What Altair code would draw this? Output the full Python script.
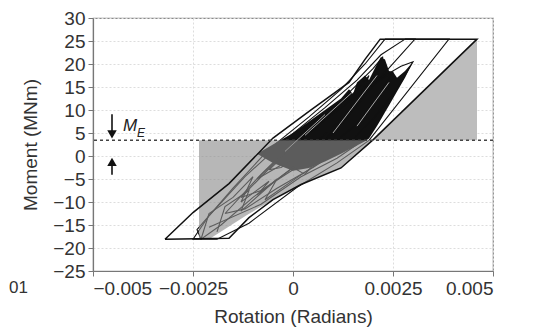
import altair as alt
import pandas as pd

# ---------------- data ----------------
x_ticks = [-0.005, -0.0025, 0.0, 0.0025, 0.005]
y_ticks = [-25, -20, -15, -10, -5, 0, 5, 10, 15, 20, 25, 30]
M_E = 3.45

# outer envelope
env_x = [-0.0032, -0.0025, -0.0016, -0.0005, 0.0004, 0.0014, 0.0018, 0.00218, 0.0046,
         0.0020, 0.0012, 0.0002, -0.0005, -0.0011, -0.0016, -0.0032]
env_y = [-18.1, -12.3, -6.0, 3.9, 9.7, 16.0, 21.0, 25.4, 25.4,
         3.5, -2.6, -6.2, -9.5, -13.4, -17.9, -18.1]
# middle large loop
lb_x = [0.0028, 0.0039, 0.0019, 0.0011, 0.0001, -0.0011, -0.0019, -0.0025, -0.0021,
        -0.0012, -0.0002, 0.0008, 0.0016, 0.0022, 0.0028]
lb_y = [25.4, 25.4, 3.4, -1.5, -6.8, -14.6, -18.1, -18.1, -13.0,
        -4.5, 3.5, 10.5, 16.5, 22.0, 25.4]
# left large loop
lc_x = [0.0023, 0.00305, 0.0021, 0.0015, 0.0008, 0.0, -0.001, -0.0018, -0.0023, -0.0024,
        -0.0015, -0.0006, 0.0004, 0.0012, 0.0018, 0.0023]
lc_y = [25.4, 25.4, 16.2, 10.0, 3.5, -2.5, -9.0, -15.0, -18.1, -16.0,
        -7.0, 1.5, 8.5, 14.5, 20.0, 25.4]
# spike loops
ld_x = [-0.0017, -0.0008, 0.0002, 0.0012, 0.0021, 0.0027, 0.003, 0.0026, 0.002, 0.0013,
        0.0005, -0.0004, -0.0012, -0.0017]
ld_y = [-12.5, -4.0, 4.5, 11.5, 16.5, 19.5, 20.5, 14.5, 8.0, 2.0, -2.5, -7.0, -11.5, -12.5]
le_x = [-0.0013, -0.0004, 0.0006, 0.0015, 0.0021, 0.0025, 0.0021, 0.0016, 0.0009, 0.0,
        -0.0008, -0.0013]
le_y = [-9.0, -1.0, 6.5, 12.5, 16.0, 18.3, 12.5, 7.0, 2.0, -3.0, -7.5, -9.0]
lf_x = [-0.0009, 0.0, 0.0009, 0.0016, 0.0020, 0.00225, 0.0019, 0.0014, 0.0007, -0.0001, -0.0009]
lf_y = [-5.0, 2.5, 9.5, 15.5, 19.0, 21.6, 15.5, 9.5, 4.0, -1.0, -5.0]
lg_x = [-0.0006, 0.0002, 0.0009, 0.0015, 0.0019, 0.0016, 0.0011, 0.0004, -0.0003, -0.0006]
lg_y = [-3.0, 3.5, 9.0, 13.5, 17.5, 11.0, 5.5, 1.0, -2.5, -3.0]
# zigzag traces in the lower part
lz_x = [-0.0023, -0.0021, -0.0015, -0.001, -0.0013, -0.0006, -0.0009, 0.0, 0.0003, 0.0008]
lz_y = [-18.1, -12.5, -9.0, -4.5, -10.0, -5.5, -8.5, -2.5, -4.0, 1.0]
lw_x = [-0.0019, -0.0017, -0.0011, -0.0013, -0.0004, -0.0007, 0.0003, 0.0010]
lw_y = [-16.5, -11.0, -7.5, -12.0, -5.0, -9.5, -3.5, 0.5]
lv_x = [-0.0021, -0.0008, 0.0002, 0.0011, 0.0016]
lv_y = [-15.5, -10.5, -4.5, -0.5, 2.5]

# dense black core
core_x = [-0.0009, -0.0005, 0.0, 0.0004, 0.0008, 0.0012, 0.0014, 0.0015, 0.0016, 0.0018,
          0.0019, 0.0021, 0.0022, 0.0023, 0.0024, 0.0025, 0.0026, 0.0028, 0.003]
core_top = [0.5, 2.5, 5.0, 7.5, 10.0, 12.5, 14.5, 13.5, 16.0, 17.5,
            16.5, 20.0, 21.5, 21.0, 18.5, 18.3, 17.0, 18.5, 20.5]
core_bot = [0.5, -1.5, -3.2, -2.6, -1.2, 0.5, 1.4, 1.8, 2.3, 3.2,
            3.8, 6.5, 8.0, 9.5, 11.0, 12.5, 14.0, 17.0, 20.5]

# white streaks inside the core
streak_id = ["a", "a", "b", "b", "c", "c", "d", "d"]
streak_x = [0.0003, 0.0015, 0.0010, 0.0021, 0.0016, 0.0024, -0.0002, 0.0008]
streak_y = [4.5, 14.0, 5.0, 17.5, 6.5, 16.0, 1.0, 9.0]

# shaded regions
right_x = [0.0020, 0.0046]
right_top = [3.5, 25.4]
left_x = [-0.00235, -0.0021, -0.00115, -0.0005, 0.0002, 0.0012, 0.0020]
left_bot = [-18.1, -18.1, -12.8, -9.5, -6.2, -2.6, 3.45]

# ---------------- tables ----------------
def loop_df(name, xs, ys):
    return pd.DataFrame({"loop": name, "o": range(len(xs)), "x": xs, "y": ys})

inner = pd.concat([
    loop_df("B", lb_x, lb_y), loop_df("C", lc_x, lc_y), loop_df("D", ld_x, ld_y),
    loop_df("E", le_x, le_y), loop_df("F", lf_x, lf_y), loop_df("G", lg_x, lg_y),
    loop_df("Z", lz_x, lz_y), loop_df("W", lw_x, lw_y), loop_df("V", lv_x, lv_y)])
env = loop_df("A", env_x, env_y)
core = pd.DataFrame({"x": core_x, "y": core_top, "y2": core_bot})
streaks = pd.DataFrame({"s": streak_id, "x": streak_x, "y": streak_y})
right = pd.DataFrame({"x": right_x, "y": right_top, "y2": [M_E, M_E]})
left = pd.DataFrame({"x": left_x, "y": [M_E] * len(left_x), "y2": left_bot})

xs = alt.Scale(domain=[-0.005, 0.005], nice=False, zero=False)
ys = alt.Scale(domain=[-25, 30], nice=False, zero=False)

X = alt.X("x:Q", scale=xs, title="Rotation (Radians)",
          axis=alt.Axis(values=x_ticks, format=".4~f", grid=True))
Y = alt.Y("y:Q", scale=ys, title="Moment (MNm)",
          axis=alt.Axis(values=y_ticks, grid=True))

right_area = alt.Chart(right).mark_area(color="#bdbdbd", opacity=1).encode(
    x=X, y=Y, y2="y2:Q")
core_area = alt.Chart(core).mark_area(color="#111111").encode(x=X, y=Y, y2="y2:Q")
inner_lines = alt.Chart(inner).mark_line(color="#111111", strokeWidth=1.1).encode(
    x=X, y=Y, detail="loop:N", order="o:Q")
streak_lines = alt.Chart(streaks).mark_line(color="#ffffff", strokeWidth=0.8, opacity=0.8).encode(
    x=X, y=Y, detail="s:N")
overlay = alt.Chart(left).mark_area(color="#8a8a8a", opacity=0.62).encode(
    x=X, y=Y, y2="y2:Q")
env_line = alt.Chart(env).mark_line(color="#111111", strokeWidth=1.5).encode(
    x=X, y=Y, order="o:Q")

dash = alt.Chart(pd.DataFrame({"y": [M_E]})).mark_rule(
    color="#444444", strokeDash=[3, 3], strokeWidth=1.5).encode(y=Y)

ax = -0.004525
stems = alt.Chart(pd.DataFrame({"x": [ax, ax], "y": [9.1, -1.8], "y2": [5.2, -4.1]})).mark_rule(
    color="#111111", strokeWidth=1.6).encode(x=X, y=Y, y2="y2:Q")
heads = alt.Chart(pd.DataFrame({"x": [ax, ax], "y": [4.7, -1.3],
                                "shp": ["triangle-down", "triangle-up"]})).mark_point(
    filled=True, color="#111111", size=90, opacity=1).encode(
    x=X, y=Y, shape=alt.Shape("shp:N", scale=None))
m_text = alt.Chart(pd.DataFrame({"x": [-0.00425], "y": [5.5]})).mark_text(
    text="M", font="Liberation Sans", fontStyle="italic", fontSize=17, align="left",
    baseline="alphabetic", color="#222222").encode(x=X, y=Y)
e_text = alt.Chart(pd.DataFrame({"x": [-0.0039], "y": [4.2]})).mark_text(
    text="E", font="Liberation Sans", fontStyle="italic", fontSize=12, align="left",
    baseline="alphabetic", color="#222222").encode(x=X, y=Y)
frag = alt.Chart(pd.DataFrame({"x": [0]})).mark_text(
    text="01", font="Liberation Sans", fontSize=17, align="left", baseline="alphabetic",
    color="#333333").encode(x=alt.value(-84), y=alt.value(275))

chart = alt.layer(right_area, core_area, inner_lines, streak_lines, overlay, env_line,
                  dash, stems, heads, m_text, e_text, frag).properties(
    width=400, height=253, autosize=alt.AutoSizeParams(type="none"),
    padding={"left": 85, "top": 10, "right": 33, "bottom": 62}
).configure_view(stroke="#8a8a8a", strokeWidth=1.2).configure_axis(
    labelFont="Liberation Sans", labelFontSize=19, labelColor="#333333",
    titleFont="Liberation Sans", titleFontSize=19, titleFontWeight="normal", titleColor="#333333",
    domainColor="#777777", domainWidth=1.2, tickColor="#777777", tickSize=5,
    gridColor="#dddddd", gridDash=[2, 2], gridWidth=1
).configure_axisX(labelPadding=3, titlePadding=9).configure_axisY(labelPadding=3, titlePadding=12)

chart.save("out.html", embed_options={"renderer": "svg", "actions": False})
